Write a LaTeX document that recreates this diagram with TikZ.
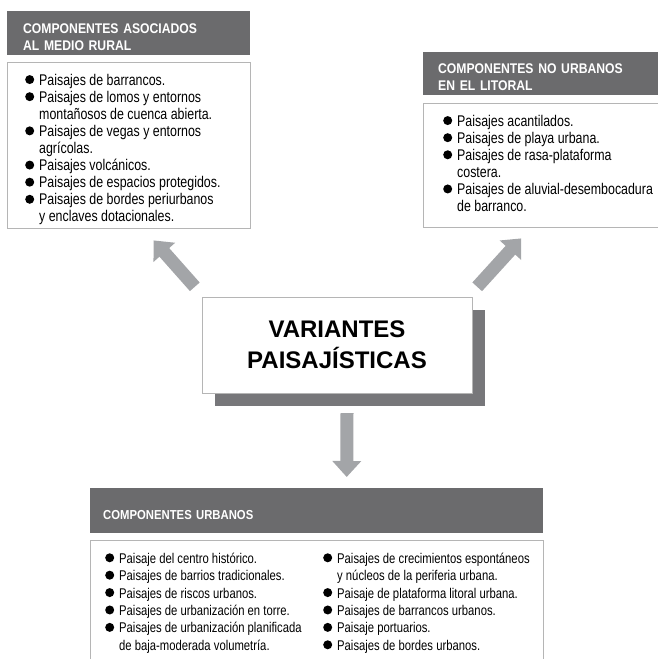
\documentclass[tikz,border=0pt]{standalone}
\usepackage{fontspec}
\setmainfont{Liberation Sans}
\newfontfamily\angosta[FakeStretch=0.80]{Liberation Sans}
\newfontfamily\cabezafont[FakeStretch=0.87]{Liberation Sans}
\usetikzlibrary{arrows.meta,shadows}
\definecolor{cabecera}{HTML}{6B6B6D}
\definecolor{sombra}{HTML}{77777A}
\definecolor{flecha}{HTML}{A3A5A8}
\definecolor{borde}{HTML}{B5B5B5}
\newcommand{\punto}{\tikz[baseline=0pt]\fill (4.5pt,5.6pt) circle[radius=4.5pt];}
\newenvironment{lista}{\begin{tabular}[t]{@{}l@{\hspace{5pt}}l@{}}}{\end{tabular}}
\begin{document}
\begin{tikzpicture}[x=1pt,y=-1pt,
    cabeza/.style={rectangle,fill=cabecera,text=white,anchor=north west,align=left,text height=17pt,
      font=\cabezafont\bfseries\fontsize{14}{17}\selectfont},
    caja/.style={rectangle,draw=borde,fill=white,anchor=north west},
    texto/.style={anchor=north west,inner sep=0pt,font=\angosta\fontsize{15.5}{17.1}\selectfont}]
  \useasboundingbox (0,0) rectangle (658,659);
  % componentes rurales
  \node[cabeza,minimum width=243pt,minimum height=44pt,inner xsep=16pt,text width=211pt] (ruralh) at (7,11)
    {COMPONENTES ASOCIADOS\\AL MEDIO RURAL};
  \node[caja,minimum width=243pt,minimum height=166pt] (rural) at (7,62) {};
  \node[texto] (ruraltxt) at ([shift={(18,11)}]rural.north west) {\begin{lista}
    \punto & Paisajes de barrancos.\\
    \punto & Paisajes de lomos y entornos\\
           & montañosos de cuenca abierta.\\
    \punto & Paisajes de vegas y entornos\\
           & agrícolas.\\
    \punto & Paisajes volcánicos.\\
    \punto & Paisajes de espacios protegidos.\\
    \punto & Paisajes de bordes periurbanos\\
           & y enclaves dotacionales.
    \end{lista}};
  % componentes del litoral
  \node[cabeza,minimum width=240pt,minimum height=43pt,inner xsep=15pt,text width=210pt] (litoralh) at (423,52)
    {COMPONENTES NO URBANOS\\EN EL LITORAL};
  \node[caja,minimum width=240pt,minimum height=124pt] (litoral) at (423,103) {};
  \node[texto] (litoraltxt) at ([shift={(20,11)}]litoral.north west) {\begin{lista}
    \punto & Paisajes acantilados.\\
    \punto & Paisajes de playa urbana.\\
    \punto & Paisajes de rasa-plataforma\\
           & costera.\\
    \punto & Paisajes de aluvial-desembocadura\\
           & de barranco.
    \end{lista}};
  % centro
  \node[rectangle,draw=borde,fill=white,minimum width=270pt,minimum height=96pt,align=center,
    font=\bfseries\fontsize{24}{31}\selectfont,
    drop shadow={shadow xshift=13pt,shadow yshift=-13pt,fill=sombra,opacity=1}] (variantes) at (337,345)
    {VARIANTES\\PAISAJÍSTICAS};
  % componentes urbanos
  \node[cabeza,minimum width=453pt,minimum height=45pt,inner xsep=13pt,text width=427pt,
    font=\cabezafont\bfseries\fontsize{13}{17}\selectfont] (urbanosh) at (90,488)
    {COMPONENTES URBANOS};
  \node[caja,minimum width=453pt,minimum height=122pt] (urbanos) at (90,540) {};
  \node[texto,font=\angosta\fontsize{14.1}{17.4}\selectfont] (urbanosa) at ([shift={(15,11)}]urbanos.north west) {\begin{lista}
    \punto & Paisaje del centro histórico.\\
    \punto & Paisajes de barrios tradicionales.\\
    \punto & Paisajes de riscos urbanos.\\
    \punto & Paisajes de urbanización en torre.\\
    \punto & Paisajes de urbanización planificada\\
           & de baja-moderada volumetría.
    \end{lista}};
  \node[texto,font=\angosta\fontsize{14.1}{17.4}\selectfont] (urbanosb) at ([shift={(233,11)}]urbanos.north west) {\begin{lista}
    \punto & Paisajes de crecimientos espontáneos\\
           & y núcleos de la periferia urbana.\\
    \punto & Paisaje de plataforma litoral urbana.\\
    \punto & Paisajes de barrancos urbanos.\\
    \punto & Paisaje portuarios.\\
    \punto & Paisajes de bordes urbanos.
    \end{lista}};
  % flechas
  \draw[draw=flecha,line width=13pt,-{Triangle[length=16pt,width=28pt]}]
    ([shift={(-7,-10)}]variantes.north west) -- ([shift={(25,12)}]rural.south);
  \draw[draw=flecha,line width=13pt,-{Triangle[length=16pt,width=28pt]}]
    ([shift={(5,-10)}]variantes.north east) -- ([shift={(-22,11)}]litoral.south);
  \draw[draw=flecha,line width=13pt,-{Triangle[length=16pt,width=28pt]}]
    ([shift={(10,20)}]variantes.south) -- ([shift={(30,-11)}]urbanosh.north);
\end{tikzpicture}
\end{document}
